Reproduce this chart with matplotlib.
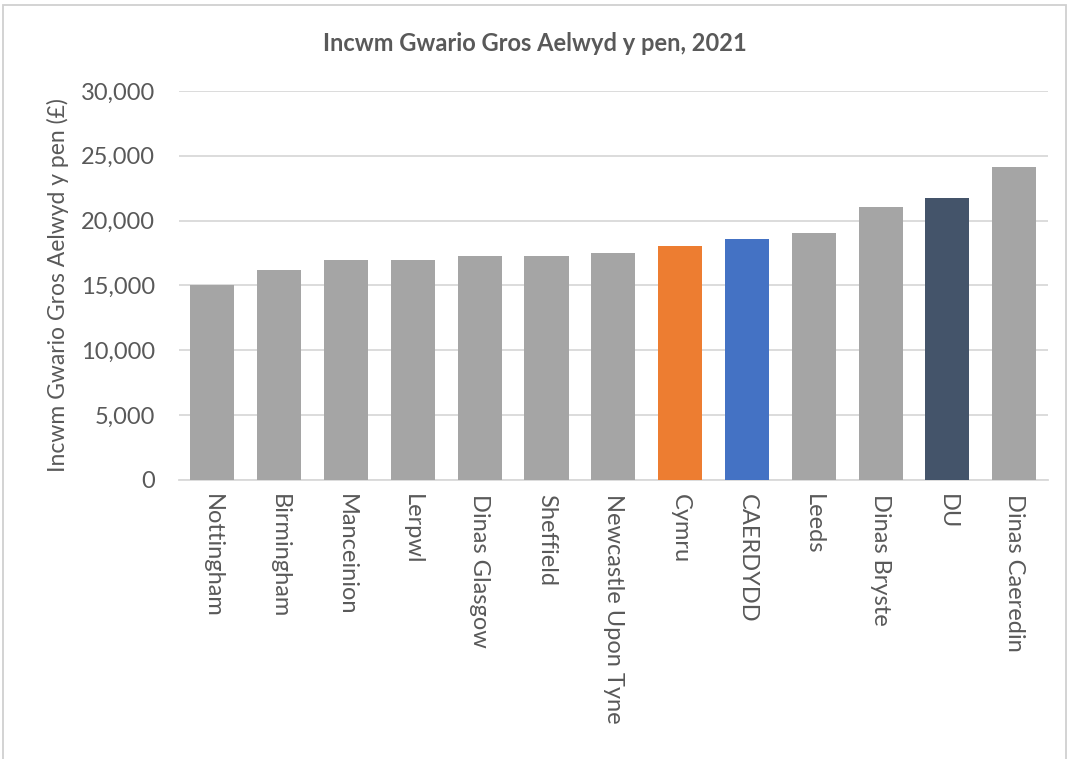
import matplotlib
matplotlib.use("Agg")
import matplotlib.pyplot as plt
from matplotlib.patches import Rectangle
from matplotlib.ticker import FuncFormatter

categories = ["Nottingham", "Birmingham", "Manceinion", "Lerpwl", "Dinas Glasgow",
              "Sheffield", "Newcastle Upon Tyne", "Cymru", "CAERDYDD", "Leeds",
              "Dinas Bryste", "DU", "Dinas Caeredin"]
values = [15050, 16180, 16950, 17000, 17250, 17250, 17490, 18020, 18560,
          19050, 21050, 21720, 24150]
colors = ["#a5a5a5"] * 7 + ["#ed7d31", "#4472c4", "#a5a5a5", "#a5a5a5", "#44546a", "#a5a5a5"]

plt.rcParams['font.family'] = ['Lato', 'DejaVu Sans']
text_col = "#595959"

fig = plt.figure(figsize=(10.69, 7.59), dpi=100)
ax = fig.add_axes([0.1674, 0.3676, 0.8126, 0.5125])

x = range(len(categories))
ax.bar(x, values, width=0.66, color=colors, zorder=3)

ax.set_ylim(0, 30000)
ax.set_xlim(-0.5, len(categories) - 0.5)
ax.set_yticks(range(0, 30001, 5000))
ax.yaxis.set_major_formatter(FuncFormatter(lambda v, p: f"{int(v):,}"))
ax.grid(axis="y", color="#d9d9d9", linewidth=1.3, zorder=0)
for s in ["top", "right", "left"]:
    ax.spines[s].set_visible(False)
ax.spines["bottom"].set_color("#d9d9d9")
ax.spines["bottom"].set_linewidth(1.3)
ax.tick_params(axis="both", length=0, colors=text_col, labelsize=17)
ax.tick_params(axis="y", pad=17)
ax.set_xticks(list(x))
ax.set_xticklabels(categories, rotation=-90, va="top", ha="center")
ax.tick_params(axis="x", pad=10)
ax.set_ylabel("Incwm Gwario Gros Aelwyd y pen (£)", fontsize=16.5, color=text_col, labelpad=9)

fig.text(0.5, 0.943, "Incwm Gwario Gros Aelwyd y pen, 2021", ha="center", va="center",
         fontsize=17, fontweight="bold", color=text_col)

fig.patches.append(Rectangle((0.003, -0.02), 0.994, 1 - 5 / 759 + 0.02, transform=fig.transFigure,
                             fill=False, edgecolor="#d0d0d0", linewidth=1.3))

fig.savefig("out.png", dpi=100)
